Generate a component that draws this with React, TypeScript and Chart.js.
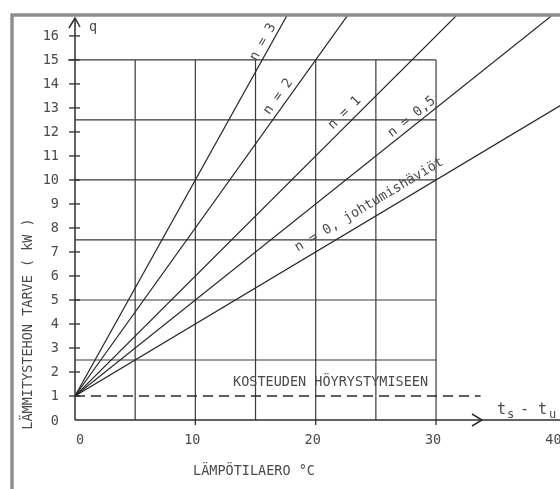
import { useEffect, useRef } from "react";
import { Chart, registerables } from "chart.js";

Chart.register(...registerables);

// ---- data ----
const seriesLabels = ["n = 3", "n = 2", "n = 1", "n = 0,5", "n = 0, johtumishäviöt"];
// each line starts at q = 1 at Δt = 0; second point read on the extension of the line
const seriesN3 = [{ x: 0, y: 1 }, { x: 20, y: 19 }];
const seriesN2 = [{ x: 0, y: 1 }, { x: 30, y: 22 }];
const seriesN1 = [{ x: 0, y: 1 }, { x: 40, y: 21 }];
const seriesN05 = [{ x: 0, y: 1 }, { x: 42, y: 17.8 }];
const seriesN0 = [{ x: 0, y: 1 }, { x: 42, y: 13.6 }];
const moistureLine = [{ x: 0, y: 1 }, { x: 33.7, y: 1 }];

const yTickValues = [0, 1, 2, 3, 4, 5, 6, 7, 8, 9, 10, 11, 12, 13, 14, 15, 16];
const xTickValues = [0, 10, 20, 30, 40];
const gridXValues = [5, 10, 15, 20, 25, 30];
const gridYValues = [2.5, 5, 7.5, 10, 12.5, 15];
const labelAnchorX = [16.2, 17.5, 23.0, 28.4, 25.0];
const labelOffset = [8, 9, 10, 8, 13];

const yTitle = "LÄMMITYSTEHON TARVE ( kW )";
const xTitle = "LÄMPÖTILAERO °C";
const moistureText = "KOSTEUDEN HÖYRYSTYMISEEN";
const qText = "q";

const MONO = "'DejaVu Sans Mono', 'Liberation Mono', monospace";

const allSeries = [seriesN3, seriesN2, seriesN1, seriesN05, seriesN0];

export default function App() {
  const ref = useRef<HTMLCanvasElement | null>(null);

  useEffect(() => {
    if (!ref.current) return;

    const decor = {
      id: "decor",
      beforeDatasetsDraw(chart: any) {
        const { ctx } = chart;
        const xs = chart.scales.x;
        const ys = chart.scales.y;
        const px = (v: number) => xs.getPixelForValue(v);
        const py = (v: number) => ys.getPixelForValue(v);
        ctx.save();
        ctx.strokeStyle = "#3a3a3a";
        ctx.lineWidth = 1.2;
        // vertical grid
        gridXValues.forEach((v) => {
          ctx.beginPath();
          ctx.moveTo(px(v), py(0));
          ctx.lineTo(px(v), py(15));
          ctx.stroke();
        });
        // horizontal grid
        gridYValues.forEach((v) => {
          ctx.beginPath();
          ctx.moveTo(v === 15 ? px(0) - 7 : px(0), py(v));
          ctx.lineTo(px(30), py(v));
          ctx.stroke();
        });
        // dashed moisture line
        ctx.setLineDash([10, 6]);
        ctx.lineWidth = 1.5;
        ctx.strokeStyle = "#2a2a2a";
        ctx.beginPath();
        ctx.moveTo(px(moistureLine[0].x), py(moistureLine[0].y));
        ctx.lineTo(px(moistureLine[1].x), py(moistureLine[1].y));
        ctx.stroke();
        ctx.setLineDash([]);
        ctx.restore();
      },
      afterDraw(chart: any) {
        const { ctx } = chart;
        const xs = chart.scales.x;
        const ys = chart.scales.y;
        const px = (v: number) => xs.getPixelForValue(v);
        const py = (v: number) => ys.getPixelForValue(v);
        ctx.save();
        // axes
        ctx.strokeStyle = "#2e2e2e";
        ctx.lineWidth = 1.5;
        const x0 = px(0);
        const y0 = py(0);
        ctx.beginPath();
        ctx.moveTo(x0, y0);
        ctx.lineTo(x0, 18);
        ctx.stroke();
        // y arrow
        ctx.beginPath();
        ctx.moveTo(x0 - 6, 28);
        ctx.lineTo(x0, 18);
        ctx.lineTo(x0 + 5, 27);
        ctx.stroke();
        // x axis
        ctx.beginPath();
        ctx.moveTo(x0, y0);
        ctx.lineTo(560, y0);
        ctx.stroke();
        const ax = 482;
        ctx.beginPath();
        ctx.moveTo(ax - 10, y0 - 6);
        ctx.lineTo(ax, y0);
        ctx.lineTo(ax - 10, y0 + 6);
        ctx.stroke();
        // y ticks
        ctx.lineWidth = 1.3;
        yTickValues.forEach((v) => {
          if (v === 0) return;
          ctx.beginPath();
          ctx.moveTo(x0 - 6, py(v));
          ctx.lineTo(x0 + 5, py(v));
          ctx.stroke();
        });
        // x ticks
        [10, 20, 30].forEach((v) => {
          ctx.beginPath();
          ctx.moveTo(px(v), y0);
          ctx.lineTo(px(v), y0 + 5);
          ctx.stroke();
        });

        // tick labels
        ctx.fillStyle = "#4a4a4a";
        ctx.font = `13.5px ${MONO}`;
        ctx.textAlign = "right";
        ctx.textBaseline = "middle";
        yTickValues.forEach((v) => {
          ctx.fillText(String(v), 59, py(v) + 1);
        });
        ctx.textAlign = "center";
        xTickValues.forEach((v) => {
          ctx.fillText(String(v), px(v) + (v === 0 ? 5 : -3), 440);
        });

        // q label
        ctx.textAlign = "left";
        ctx.fillText(qText, 89, 27);

        // axis titles
        ctx.fillText(xTitle, 193, 471);
        ctx.save();
        ctx.translate(28, 324);
        ctx.rotate(-Math.PI / 2);
        ctx.textAlign = "center";
        ctx.fillText(yTitle, 0, 0);
        ctx.restore();

        // moisture text
        ctx.textAlign = "left";
        ctx.fillText(moistureText, 233, 382);

        // ts - tu
        ctx.font = `15px ${MONO}`;
        ctx.textBaseline = "alphabetic";
        ctx.fillText("t", 497, 414);
        ctx.fillText("-", 520, 414);
        ctx.fillText("t", 538, 414);
        ctx.font = `12px ${MONO}`;
        ctx.fillText("s", 507, 418);
        ctx.fillText("u", 549, 418);

        // line labels
        ctx.font = `13.5px ${MONO}`;
        ctx.textAlign = "center";
        ctx.textBaseline = "middle";
        allSeries.forEach((s, i) => {
          const a = s[0];
          const b = s[1];
          const slope = (b.y - a.y) / (b.x - a.x);
          const ang = Math.atan2(py(b.y) - py(a.y), px(b.x) - px(a.x));
          const xa = labelAnchorX[i];
          const fx = px(xa);
          const fy = py(a.y + slope * (xa - a.x));
          const nx = Math.sin(ang);
          const ny = -Math.cos(ang);
          const cx = fx + nx * labelOffset[i];
          const cy = fy + ny * labelOffset[i];
          ctx.save();
          ctx.translate(cx, cy);
          ctx.rotate(ang);
          ctx.fillText(seriesLabels[i], 0, 0);
          ctx.restore();
        });

        // frame
        ctx.strokeStyle = "#8e8e8e";
        ctx.lineWidth = 3.5;
        ctx.beginPath();
        ctx.moveTo(12, 495);
        ctx.lineTo(12, 15);
        ctx.lineTo(565, 15);
        ctx.stroke();
        ctx.restore();
      },
    };

    const chart = new Chart(ref.current, {
      type: "line",
      data: {
        datasets: allSeries.map((s, i) => ({
          label: seriesLabels[i],
          data: s,
          borderColor: "#262626",
          borderWidth: 1.2,
          pointRadius: 0,
          fill: false,
          tension: 0,
        })),
      },
      options: {
        animation: false,
        responsive: false,
        layout: { padding: { left: 75, top: 16, right: 0, bottom: 69 } },
        scales: {
          x: { type: "linear", min: 0, max: 40.3, display: false },
          y: { type: "linear", min: 0, max: 16.83, display: false },
        },
        plugins: { legend: { display: false }, tooltip: { enabled: false } },
      },
      plugins: [decor],
    });
    return () => chart.destroy();
  }, []);

  return (
    <div style={{ position: "fixed", left: 0, top: 0, width: 560, height: 489, background: "#fff" }}>
      <canvas ref={ref} width={560} height={489} style={{ display: "block" }} />
    </div>
  );
}
